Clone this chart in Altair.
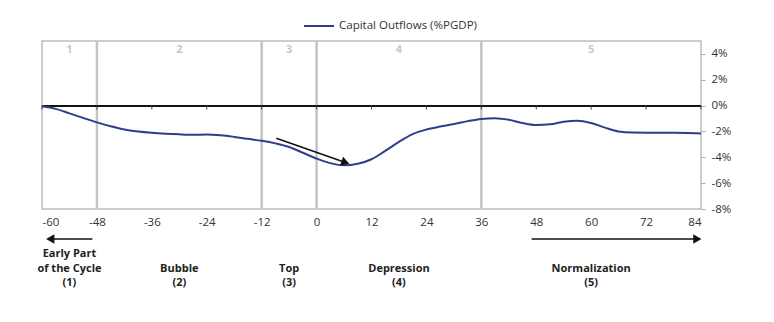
import altair as alt
import pandas as pd

# ---- data ----
months = list(range(-60, 85, 3))
outflows = [
    -0.05, -0.25, -0.6, -0.95, -1.3, -1.6, -1.85, -2.0, -2.1, -2.17,
    -2.22, -2.25, -2.24, -2.3, -2.42, -2.57, -2.72, -2.92, -3.2, -3.65,
    -4.1, -4.45, -4.62, -4.5, -4.15, -3.5, -2.8, -2.2, -1.85, -1.62,
    -1.42, -1.2, -1.03, -0.98, -1.1, -1.35, -1.5, -1.45, -1.25, -1.17,
    -1.35, -1.7, -2.0, -2.08, -2.09, -2.09, -2.1, -2.12, -2.15,
]
series_name = "Capital Outflows (%PGDP)"
phase_bounds = [-48, -12, 0, 36]
phase_mid = [-54, -30, -6, 18, 60]
phase_num = ["1", "2", "3", "4", "5"]
phase_names = [
    "Early Part\nof the Cycle\n(1)",
    "Bubble\n(2)",
    "Top\n(3)",
    "Depression\n(4)",
    "Normalization\n(5)",
]
x_ticks = list(range(-60, 85, 12))
y_ticks = [-8, -6, -4, -2, 0, 2, 4]

# annotation arrow (data coordinates)
arrow_x = [-8.8]
arrow_y = [-2.52]
arrow_x2 = [6.3]
arrow_y2 = [-4.40]
# bottom direction arrows (months)
dir_start = [-49, 47]
dir_end = [-58.2, 83.2]
dir_shape = ["triangle-left", "triangle-right"]

FONT = "Open Sans"
LINE_COLOR = "#2f3d8f"

df = pd.DataFrame({"month": months, "value": outflows, "series": series_name})
bounds_df = pd.DataFrame({"month": phase_bounds})
max_lines = max(n.count("\n") for n in phase_names)
padded = ["\n" * (max_lines - n.count("\n")) + n for n in phase_names]
mid_df = pd.DataFrame({"month": phase_mid, "num": phase_num, "name": padded})
ticks_df = pd.DataFrame({"month": x_ticks})
arrow_df = pd.DataFrame({"x": arrow_x, "y": arrow_y, "x2": arrow_x2, "y2": arrow_y2})
dir_df = pd.DataFrame({"x": dir_start, "x2": dir_end, "shape": dir_shape})

xs = alt.Scale(domain=[-60, 84], nice=False, zero=False)
ys = alt.Scale(domain=[-8, 5], nice=False, zero=False)

X_AX = alt.Axis(
    values=x_ticks, ticks=False, tickSize=0, grid=False, domain=False,
    labelPadding=7, labelFontSize=11.5, labelColor="#333333", labelFont=FONT,
    labelExpr="toString(datum.value)", title=None,
)
Y_AX = alt.Axis(
    orient="right", values=y_ticks, grid=False, domain=False,
    tickSize=4, tickColor="#aaaaaa", labelPadding=6,
    labelExpr="toString(datum.value) + '%'", labelFontSize=11.5,
    labelColor="#333333", labelFont=FONT, title=None,
)


def X(field):
    return alt.X(field, type="quantitative", scale=xs, axis=X_AX)


def Y(field):
    return alt.Y(field, type="quantitative", scale=ys, axis=Y_AX)


phase_rules = alt.Chart(bounds_df).mark_rule(color="#c4c4c4", strokeWidth=2.5).encode(
    x=X("month")
)

zero_rule = alt.Chart(ticks_df).mark_rule(color="#111111", strokeWidth=1.3).encode(
    y=alt.datum(0, scale=ys, axis=Y_AX)
)

zero_ticks = alt.Chart(ticks_df).mark_rule(color="#444444", strokeWidth=1).encode(
    x=X("month"),
    y=alt.datum(0, scale=ys, axis=Y_AX),
    y2=alt.value(68.5),
)

phase_numbers = alt.Chart(mid_df).mark_text(
    font=FONT, fontSize=11, fontWeight="bold", color="#c8c8c8", baseline="middle"
).encode(
    x=X("month"),
    y=alt.value(9),
    text="num:N",
)

line = alt.Chart(df).mark_line(strokeWidth=2, interpolate="monotone").encode(
    x=X("month"),
    y=Y("value"),
    color=alt.Color(
        "series:N",
        scale=alt.Scale(domain=[series_name], range=[LINE_COLOR]),
        legend=alt.Legend(
            title=None, orient="none", legendX=261, legendY=-31,
            symbolType="stroke", symbolSize=900, symbolStrokeWidth=2,
            labelFont=FONT, labelFontSize=11.5, labelColor="#333333",
            labelOffset=4, padding=0,
        ),
    ),
)

arrow_shaft = alt.Chart(arrow_df).mark_rule(color="#111111", strokeWidth=1.6).encode(
    x=X("x"), y=Y("y"), x2="x2:Q", y2="y2:Q",
)
arrow_head = alt.Chart(arrow_df).mark_point(
    shape="triangle-right", filled=True, color="#111111", size=90, angle=18.7, opacity=1
).encode(
    x=X("x2"), y=Y("y2")
)

phase_labels = alt.Chart(mid_df).mark_text(
    font=FONT, fontSize=11, fontWeight="bold", color="#222222",
    baseline="bottom", lineBreak="\n", lineHeight=14.5, align="center",
).encode(
    x=X("month"),
    y=alt.value(218),
    text="name:N",
)

dir_shaft = alt.Chart(dir_df).mark_rule(color="#111111", strokeWidth=1.6).encode(
    x=X("x"), x2="x2:Q", y=alt.value(198)
)
dir_head = alt.Chart(dir_df).mark_point(filled=True, color="#111111", size=90, opacity=1).encode(
    x=X("x2"), y=alt.value(198),
    shape=alt.Shape("shape:N", scale=None, legend=None),
)

chart = alt.layer(
    phase_rules, zero_rule, zero_ticks, phase_numbers, line,
    arrow_shaft, arrow_head, phase_labels, dir_shaft, dir_head,
).properties(
    width=659, height=168,
    autosize=alt.AutoSizeParams(type="none"),
    padding={"left": 42, "top": 41, "right": 73, "bottom": 113},
    background="white",
).configure_view(
    stroke="#bdbdbd", strokeWidth=1.5
)

chart.save("out.html", embed_options={"renderer": "svg", "actions": False})
